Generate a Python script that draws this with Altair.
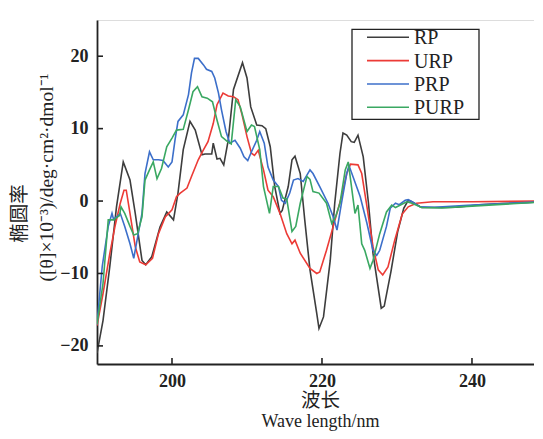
import altair as alt
import pandas as pd

series = ["RP", "URP", "PRP", "PURP"]
colors = ["#3d3d3d", "#ec3b36", "#3c6fca", "#3aa862"]

rp_wl = [190, 190.8, 191.7, 192.6, 193.5, 194.4, 195.1, 196, 196.5, 197.3, 198.4, 199.3, 200.2, 200.8,
         201.5, 202.4, 203.1, 204, 204.4, 205.3, 205.5, 206, 206.4, 206.9, 207.5, 208.2, 209.4, 210,
         210.5, 211.3, 212, 212.5, 213.1, 213.7, 214.4, 214.7, 215.5, 216, 216.4, 217.1, 217.7, 218.4,
         219.3, 219.6, 220.2, 221.1, 221.7, 222.4, 222.8, 223.3, 223.9, 224.3, 224.8, 225.5, 226.2,
         226.8, 227.9, 228.3, 229.2, 230.1, 230.9, 231.5, 232, 233.3, 236, 238, 241, 244, 248.3]
rp_val = [-21, -16.5, -9.1, -0.8, 5.4, 2.9, -1.7, -8.2, -8.8, -7.7, -3.6, -1.5, -2.6, 1.1,
          7.1, 11, 9.8, 6.4, 6.5, 6.5, 8, 5.8, 5.9, 5, 8.4, 15.4, 19.1, 17,
          13, 10.5, 10.4, 10, 7.5, 2, -1.7, -1.3, 2, 5.7, 6.2, 3.8, -2.6, -9.5,
          -15.5, -17.6, -16, -8.2, -0.3, 6.6, 9.4, 9.1, 8.2, 8.1, 9.1, 6.1, -0.3,
          -7.2, -14.8, -14.5, -9.7, -4.2, -1, 0.1, -0.1, -0.9, -0.9, -0.85, -0.5, -0.35, -0.15]

urp_wl = [190, 190.8, 191.7, 192.4, 193.1, 193.6, 193.9, 194.4, 195.1, 195.7, 196.5, 197.4, 198.2,
          199.1, 200, 200.6, 201.1, 202, 202.6, 203.5, 204.1, 204.8, 205.5, 206, 206.8, 207.5,
          208.2, 208.8, 209.3, 210, 210.6, 211, 211.5, 212.2, 212.8, 213.5, 214.4, 215.3, 216,
          216.4, 217.1, 218.4, 219.3, 219.7, 220.6, 221.5, 222.6, 223.3, 223.8, 224.8, 225.3, 226,
          226.8, 227.5, 228.1, 228.8, 229.7, 230.7, 231.5, 232.6, 234.8, 240, 248.3]
urp_val = [-17.2, -12.8, -7.3, -3.5, -0.3, 1.5, 1.5, -1.7, -6.3, -8.4, -8.8, -7.9, -4.5,
           -2.2, -1.2, 0.6, 1.1, 1.8, 3.4, 5.7, 6.9, 8.2, 10.7, 13.3, 14.9, 14.5,
           14.4, 14, 12.1, 8.9, 6.6, 6.3, 7, 4.3, 1.5, 0.6, -1.7, -4.5, -5.9,
           -5.4, -7.2, -9.3, -10, -9.8, -6.8, -3.5, 0.6, 3.8, 5.1, 5, 3.8, -0.8,
           -6.3, -9.5, -10.2, -9.1, -5.4, -1.8, -0.8, -0.3, -0.1, -0.1, 0]

prp_wl = [190, 190.7, 191.5, 192, 192.2, 192.6, 193.1, 193.7, 194.4, 194.9, 195.5, 196, 196.4, 197,
          197.5, 198.2, 198.8, 199.5, 200, 200.4, 200.8, 201.5, 202.2, 202.6, 203, 203.5, 204.2,
          204.6, 205.3, 205.7, 206.2, 206.6, 207.2, 207.7, 208.4, 209.1, 209.6, 210.1, 210.6, 211.3,
          211.7, 212.3, 212.8, 213.5, 214.2, 214.6, 215.1, 215.7, 216.2, 216.8, 217.5, 218.4, 218.8,
          219.7, 220.8, 221.5, 222, 222.6, 223.3, 223.6, 225.1, 226, 226.8, 227.3, 227.7, 228.6,
          229.1, 229.8, 230.3, 231.1, 231.5, 232, 233.1, 235, 239.4, 248.3]
prp_val = [-17, -9, -3.5, -1.7, -2.5, -2.2, -1.7, -3.5, -5.9, -7.9, -4.5, -1.7, 3.8, 6.8,
           5.7, 5.7, 5.6, 4.7, 5.4, 8.4, 11, 11.9, 14.7, 17.7, 19.7, 19.7, 18.8,
           18.2, 17.9, 17, 14.9, 12.6, 9.6, 8, 8.4, 7.3, 6.1, 5.6, 6.8, 8.4,
           9.6, 8, 4.7, 2.9, 2, 0.1, -0.3, 1.1, 2.9, 3.1, 2.7, 4.3, 3.8,
           2, -0.3, -2.2, -4, -0.3, 3.8, 4.9, 0.6, -3.1, -6.8, -7.5, -6.8, -3.5,
           -1, -0.3, -0.5, 0.1, 0.2, -0.1, -0.8, -0.85, -0.6, -0.15]

purp_wl = [190, 190.8, 191.5, 192.2, 193, 193.2, 193.7, 194.4, 194.9, 195.4, 196, 196.4, 197, 197.5,
           198, 198.6, 199.3, 200, 200.6, 201.5, 202.2, 202.8, 203.4, 204, 204.7, 205.4, 206, 206.6,
           207.4, 207.9, 208.5, 209.1, 210, 210.6, 211, 211.7, 212.2, 213, 213.5, 214.2, 214.8,
           215.3, 216, 216.5, 217.1, 218, 218.4, 218.8, 219.6, 220.6, 221.3, 221.8, 222.4, 223.1,
           223.5, 224.4, 224.8, 225.3, 225.7, 226.4, 226.8, 227.7, 228.6, 229.3, 229.8, 231.3, 232,
           233.3, 236, 240, 248.3]
purp_val = [-17, -11.4, -2.6, -2.6, -2, -0.8, -1.7, -3.5, -4.7, -4.5, -2.2, 2.9, 4.3, 5.4,
            3.1, 4.5, 7.5, 8.7, 9.8, 9.9, 12.6, 15.1, 15.8, 14.4, 14.2, 13.7, 11.2, 8.9,
            8.2, 7.9, 14, 13, 9.6, 10.5, 10.3, 7.1, 2, -1.7, 2, 2, 0.4,
            0.3, -4.2, -3.5, -0.3, 3.4, 3.0, 1.3, 1.1, -0.3, -3.1, -2.2, -0.3, 4.3,
            5.4, -1.7, -0.55, -5.9, -6.8, -9.3, -8.2, -4.5, -1.5, -0.55, -0.9, -0.1, -0.3,
            -0.9, -0.95, -0.7, -0.2]

x_ticks = [200, 220, 240]
y_ticks = [-20, -10, 0, 10, 20]

frames = []
for name, wl, val in [("RP", rp_wl, rp_val), ("URP", urp_wl, urp_val),
                      ("PRP", prp_wl, prp_val), ("PURP", purp_wl, purp_val)]:
    frames.append(pd.DataFrame({"wl": wl, "val": val, "series": name}))
df = pd.concat(frames, ignore_index=True)
xt = pd.DataFrame({"wl": x_ticks})
yt = pd.DataFrame({"val": y_ticks})
leg = pd.DataFrame({"series": series})

FONT = "Liberation Serif, 'Noto Sans CJK SC'"
INK = "#222222"
W, H = 437, 344

x_scale = alt.Scale(domain=[190, 248.27], nice=False, zero=False)
y_scale = alt.Scale(domain=[-22.5, 25], nice=False, zero=False)
color_scale = alt.Scale(domain=series, range=colors)

x_enc = alt.X("wl:Q", scale=x_scale,
              axis=alt.Axis(values=x_ticks, format="d", grid=False, ticks=False,
                            labelFont=FONT, labelFontWeight="bold", labelFontSize=18, labelColor=INK,
                            labelPadding=8, domainColor=INK, domainWidth=1.8,
                            title="波长", titleFont=FONT, titleFontSize=19.5, titleFontWeight="normal",
                            titleColor=INK, titleX=223, titleY=36, titleAlign="center",
                            titleBaseline="middle"))
y_enc = alt.Y("val:Q", scale=y_scale,
              axis=alt.Axis(values=y_ticks, format="d", grid=False, ticks=False, orient="left",
                            labelFont=FONT, labelFontWeight="bold", labelFontSize=18, labelColor=INK,
                            labelPadding=9, domainColor=INK, domainWidth=1.8,
                            title="([θ]×10⁻³)/deg·cm²·dmol⁻¹",
                            titleFont=FONT, titleFontSize=19.5, titleFontWeight="normal",
                            titleColor=INK, titleX=-51, titleY=157,
                            titleAlign="center", titleBaseline="middle"))
y_enc2 = alt.Y("val:Q", scale=y_scale,
               axis=alt.Axis(orient="left", labels=False, ticks=False, domain=False, grid=False,
                             title="椭圆率", titleFont=FONT, titleFontSize=19.5,
                             titleFontWeight="normal", titleColor=INK, titleX=-78, titleY=193,
                             titleAlign="center", titleBaseline="middle"))

lines = alt.Chart(df).mark_line(strokeWidth=1.6, clip=True).encode(
    x=x_enc, y=y_enc,
    color=alt.Color("series:N", scale=color_scale, legend=None),
)

xticks = alt.Chart(xt).mark_rule(color=INK, strokeWidth=1.6).encode(
    x=x_enc, y=alt.value(H), y2=alt.value(H - 6))
yticks = alt.Chart(yt).mark_rule(color=INK, strokeWidth=1.6).encode(
    y=y_enc2, x=alt.value(0), x2=alt.value(6))

# legend
leg_y = alt.Y("series:N", scale=alt.Scale(type="point", domain=series, range=[17.3, 87.3], padding=0),
              axis=None)
box = alt.Chart(pd.DataFrame({"k": [0]})).mark_rect(fill="white", stroke=INK, strokeWidth=1.3).encode(
    x=alt.value(255), x2=alt.value(382), y=alt.value(9.3), y2=alt.value(99.3))
leg_lines = alt.Chart(leg).mark_rule(strokeWidth=1.6).encode(
    x=alt.value(270), x2=alt.value(312), y=leg_y,
    color=alt.Color("series:N", scale=color_scale, legend=None))
leg_text = alt.Chart(leg).mark_text(align="left", baseline="middle", font=FONT, fontSize=20,
                                    color=INK, dy=1).encode(
    x=alt.value(317), y=leg_y, text="series:N")

chart = alt.layer(lines, xticks, yticks, box, leg_lines, leg_text).resolve_scale(
    y="independent"
).properties(
    width=W, height=H, autosize="none",
    padding={"left": 89, "top": 12, "right": 0, "bottom": 67},
    title=alt.TitleParams(text="Wave length/nm", orient="bottom", font=FONT, fontSize=18,
                          fontWeight="normal", color=INK, anchor="middle", offset=3, dx=5),
).configure_view(stroke=None).configure(background="white")

chart.save("out.html", embed_options={"renderer": "svg", "actions": False})
